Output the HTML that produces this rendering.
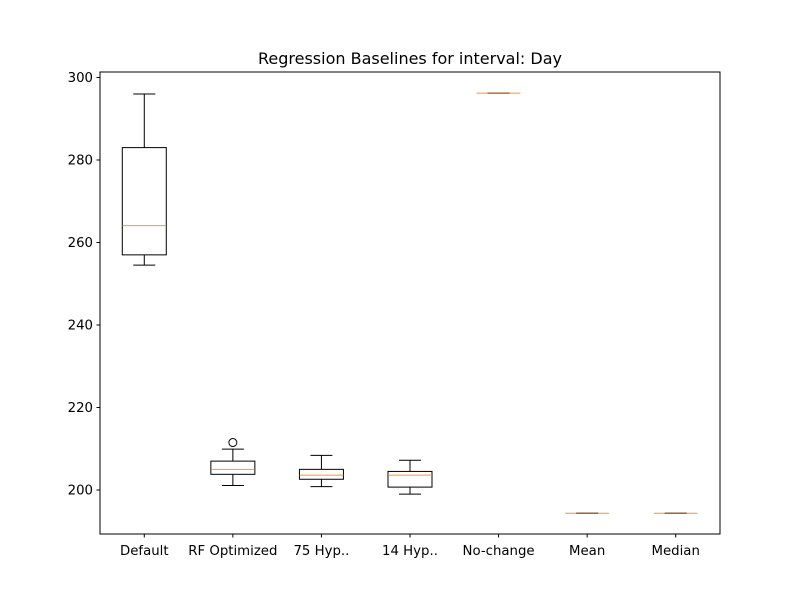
<!DOCTYPE html>
<html><head><meta charset="utf-8"><style>
body{margin:0;background:#fff;}
svg text{font-family:"DejaVu Sans","Liberation Sans",sans-serif;font-size:13.3px;fill:#000;}
</style></head><body>
<svg id="chart" width="800" height="600" xmlns="http://www.w3.org/2000/svg">
<rect width="800" height="600" fill="#fff"/>
<text x="410" y="64" text-anchor="middle" style="font-size:16px">Regression Baselines for interval: Day</text>
<g id="plot"></g>
<rect x="100" y="72" width="620" height="462" fill="none" stroke="#000" stroke-width="1"/>
</svg>
<script>
const categories=["Default","RF Optimized","75 Hyp..","14 Hyp..","No-change","Mean","Median"];
const whiskerLow=[254.5,201.1,200.8,199.0,296.2,194.35,194.35];
const q1=[257.0,203.8,202.6,200.7,296.2,194.35,194.35];
const medians=[264.1,205.0,203.6,203.6,296.2,194.35,194.35];
const q3=[283.0,207.0,205.0,204.5,296.2,194.35,194.35];
const whiskerHigh=[296.0,209.9,208.4,207.2,296.2,194.35,194.35];
const fliers=[[],[211.5],[],[],[],[],[]];
const yTicks=[200,220,240,260,280,300];
const L=100,R=720,T=72,B=534,ymin=189.33,ymax=301.33;
const X=i=>L+(R-L)*(i+1-0.5)/7;
const Y=v=>B-(v-ymin)/(ymax-ymin)*(B-T);
const g=document.getElementById('plot');
const NS="http://www.w3.org/2000/svg";
function mk(tag,attrs,name,parent){const e=document.createElementNS(NS,tag);for(const k in attrs)e.setAttribute(k,attrs[k]);


(parent||g).appendChild(e);return e;}
yTicks.forEach(v=>{const y=Y(v);
mk('line',{x1:L-3.5,x2:L,y1:y,y2:y,stroke:'#000'},'y-tick');
const t=mk('text',{x:L-7,y:y+4.5,'text-anchor':'end'},'y-tick-label');t.textContent=v;});
categories.forEach((c,i)=>{const x=X(i);
mk('line',{x1:x,x2:x,y1:B,y2:B+3.5,stroke:'#000'},'x-tick');
const t=mk('text',{x:x,y:B+21,'text-anchor':'middle'},'x-tick-label');t.textContent=c;
const h=22,cw=11;
mk('line',{x1:x,x2:x,y1:Y(q1[i]),y2:Y(whiskerLow[i]),stroke:'#000'},'whisker-low');
mk('line',{x1:x,x2:x,y1:Y(q3[i]),y2:Y(whiskerHigh[i]),stroke:'#000'},'whisker-high');
mk('line',{x1:x-cw,x2:x+cw,y1:Y(whiskerLow[i]),y2:Y(whiskerLow[i]),stroke:'#000'},'cap-low');
mk('line',{x1:x-cw,x2:x+cw,y1:Y(whiskerHigh[i]),y2:Y(whiskerHigh[i]),stroke:'#000'},'cap-high');
mk('rect',{x:x-h,y:Y(q3[i]),width:2*h,height:Math.max(0,Y(q1[i])-Y(q3[i])),fill:'none',stroke:'#000'},'box');
mk('line',{x1:x-h,x2:x+h,y1:Y(medians[i]),y2:Y(medians[i]),stroke:'#ff7f0e','stroke-opacity':0.85},'median-line');
fliers[i].forEach(f=>mk('circle',{cx:x,cy:Y(f),r:4,fill:'none',stroke:'#000'},'outlier'));
});
</script>
</body></html>
